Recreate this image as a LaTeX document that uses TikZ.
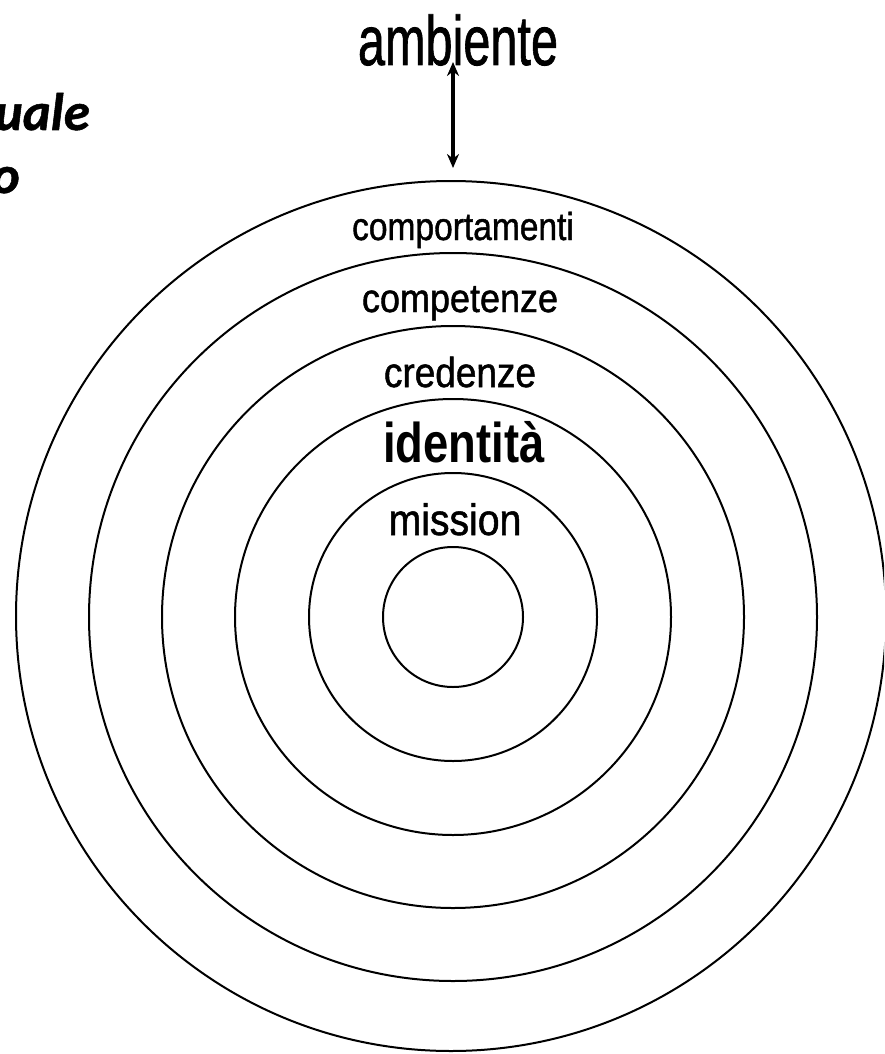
\documentclass[tikz,border=0pt]{standalone}
\usepackage{fontspec}
\usepackage{graphicx}
\setmainfont{Liberation Sans}
\newfontfamily\heavy[FakeBold=1.2]{Liberation Sans}
\newfontfamily\cali[FakeBold=1]{Carlito}
\usetikzlibrary{arrows.meta}
\tikzset{
  ring/.style={draw=black, line width=2pt, circle, inner sep=0pt, outer sep=0pt},
  lbl/.style={anchor=base, inner sep=0pt, text=black},
  side/.style={anchor=base east, inner sep=0pt, font=\cali\bfseries\itshape\fontsize{53}{60}\selectfont},
  link/.style={line width=3.6pt, {Stealth[length=14pt,width=12pt]}-{Stealth[length=14pt,width=12pt]}}
}
\begin{document}
\begin{tikzpicture}[x=1pt,y=-1pt]
\useasboundingbox (0,0) rectangle (884,1054);
\fill[white] (0,0) rectangle (884,1054);
\clip (0,0) rectangle (884,1054);
% rings
\node[ring, minimum size=870pt] (r1) at (451,616) {};
\node[ring, minimum size=728pt] (r2) at (453,617) {};
\node[ring, minimum size=582pt] (r3) at (453,617) {};
\node[ring, minimum size=436pt] (r4) at (453,617) {};
\node[ring, minimum size=288pt] (r5) at (453,617) {};
\node[ring, minimum size=140pt] (r6) at (453,617) {};
% labels
\node[lbl] (amb) at (458,65) {\scalebox{0.695}[1]{\heavy\fontsize{70}{80}\selectfont ambiente}};
\node[lbl] (comp) at (463,240) {\scalebox{0.86}[1]{\heavy\fontsize{39}{45}\selectfont comportamenti}};
\node[lbl] (compet) at (460,312) {\scalebox{0.9}[1]{\heavy\fontsize{40}{46}\selectfont competenze}};
\node[lbl] (cred) at (460,387) {\scalebox{0.88}[1]{\heavy\fontsize{42}{48}\selectfont credenze}};
\node[lbl] (ident) at (464,462) {\scalebox{0.81}[1]{\fontsize{56}{64}\selectfont\bfseries identità}};
\node[lbl] (miss) at (455,535) {\scalebox{0.89}[1]{\heavy\fontsize{44}{50}\selectfont mission}};
% arrow
\coordinate (atop) at (453,62);
\draw[link, shorten >=13pt] (atop) -- (r1.north -| atop);
% cut-off side text
\node[side] (s0) at (27,-10) {g};
\node[side] (s1) at (90,130) {uale};
\node[side] (s2) at (20,193) {o};
\end{tikzpicture}
\end{document}
